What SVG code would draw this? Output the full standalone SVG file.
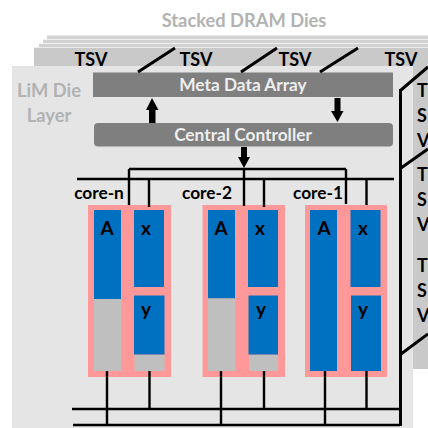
<svg xmlns="http://www.w3.org/2000/svg" width="428" height="428" viewBox="0 0 428 428">
<style>
text{font-family:Lato,"Open Sans","Liberation Sans",sans-serif;font-weight:700}
.t{font-size:18px;fill:#000;text-anchor:middle}
.r{font-size:18px;fill:#000}
.l{font-size:18.3px;fill:#b2b2b2;text-anchor:middle}
.w{font-size:17.3px;fill:#eee;text-anchor:middle}
.c{font-size:17.300px;fill:#000;text-anchor:middle}
.m{font-size:19px;fill:#000;text-anchor:middle}
.ln{stroke:#000;stroke-width:2.4;fill:none}
.d{stroke:#000;stroke-width:3;fill:none}
.pk{fill:#ff9999}.bl{fill:#0070c0}.gr{fill:#bfbfbf}
</style>
<rect width="428" height="428" fill="#fff"/>
<g id="stack">
<rect x="47" y="35" width="381" height="1" fill="#e8e8e8"/>
<rect x="47" y="36" width="381" height="3" fill="#d2d2d2"/>
<rect x="43" y="39" width="385" height="1" fill="#f0f0f0"/>
<rect x="43" y="40" width="385" height="3" fill="#d2d2d2"/>
<rect x="39" y="43" width="389" height="1" fill="#f0f0f0"/>
<rect x="39" y="44" width="389" height="3" fill="#d2d2d2"/>
<rect x="34" y="47" width="394" height="1" fill="#ececec"/>
<rect x="34" y="48" width="394" height="30" fill="#c9c9c9"/>
<rect x="413" y="48" width="15" height="321" fill="#c9c9c9"/>
</g>
<g id="lim-die"><rect x="12" y="66" width="401" height="362" fill="#e5e5e5"/></g>
<text class="l" x="244" y="27">Stacked DRAM Dies</text>
<text class="l" x="49" y="97">LiM Die</text>
<text class="l" x="49" y="122">Layer</text>
<text class="t" x="91" y="66">TSV</text><text class="t" x="196" y="66">TSV</text><text class="t" x="295" y="66">TSV</text><text class="t" x="401" y="66">TSV</text>
<g id="right-tsv">
<text class="r" x="417" y="97">T</text><text class="r" x="417" y="122">S</text><text class="r" x="417" y="147">V</text>
<text class="r" x="417" y="181">T</text><text class="r" x="417" y="206">S</text><text class="r" x="417" y="231">V</text>
<text class="r" x="417" y="272">T</text><text class="r" x="417" y="297">S</text><text class="r" x="417" y="322">V</text>
</g>
<g id="meta-data-array"><rect x="93" y="72.5" width="300" height="24.5" fill="#7f7f7f"/><text class="w" x="243" y="91">Meta Data Array</text></g>
<g id="central-controller"><rect x="94" y="123" width="299" height="23.5" rx="4" fill="#7f7f7f"/><text class="w" x="243" y="141">Central Controller</text></g>
<g id="core-n">
<rect class="pk" x="88" y="205" width="83" height="172"/>
<rect class="bl" x="94" y="210" width="27" height="89"/><rect class="gr" x="94" y="299" width="27" height="72"/>
<rect class="bl" x="134" y="210" width="30" height="77"/><rect class="bl" x="134" y="295.5" width="30.500" height="59"/><rect class="gr" x="134.500" y="355" width="30" height="16"/>
<text class="c" x="99" y="199">core-n</text><text class="m" x="107" y="235">A</text><text class="m" x="146" y="235">x</text><text class="m" x="146" y="316">y</text>
</g>
<g id="core-2">
<rect class="pk" x="202.500" y="205" width="82.500" height="172"/>
<rect class="bl" x="208" y="210" width="27" height="88.500"/><rect class="gr" x="208" y="298.500" width="27" height="72.500"/>
<rect class="bl" x="248" y="210" width="30" height="77"/><rect class="bl" x="248.500" y="295.500" width="29.500" height="59"/><rect class="gr" x="249" y="355" width="29" height="16"/>
<text class="c" x="207" y="199">core-2</text><text class="m" x="221" y="235">A</text><text class="m" x="260" y="235">x</text><text class="m" x="261" y="316">y</text>
</g>
<g id="core-1">
<rect class="pk" x="305" y="205" width="82" height="172"/>
<rect class="bl" x="310" y="210" width="27" height="161"/>
<rect class="bl" x="350.500" y="210" width="30" height="77"/><rect class="bl" x="351" y="295.500" width="30" height="75.500"/>
<text class="c" x="318" y="199">core-1</text><text class="m" x="324" y="235">A</text><text class="m" x="363" y="235">x</text><text class="m" x="363" y="316">y</text>
</g>
<g id="connectors">
<g class="d"><path d="M138 72 175 48M241 72 277 48M320 72 358 48M401 90 428 67M401 168 428 149M401 354 428 334M400.500 89V426"/></g>
<g class="ln">
<path d="M77 179H394M129 169H346M129 169V205M149 179V207M244 169V206M264 179V207M346 169V204M366.500 179V205"/>
<path d="M72 409H399M73 425H400M107 371V425M149.500 371V409M221 371V425M264 371V409M325 371V425M366.500 371V409"/>
</g>
<path d="M149 123V110H146L152 98 158.500 110H155.500V123Z" fill="#000"/>
<path d="M334.500 98V111H331L337.500 122 343.500 111H340.500V98Z" fill="#000"/>
<path d="M241 147V157H238L244 168 250 157H247V147Z" fill="#000"/>
</g>
</svg>
